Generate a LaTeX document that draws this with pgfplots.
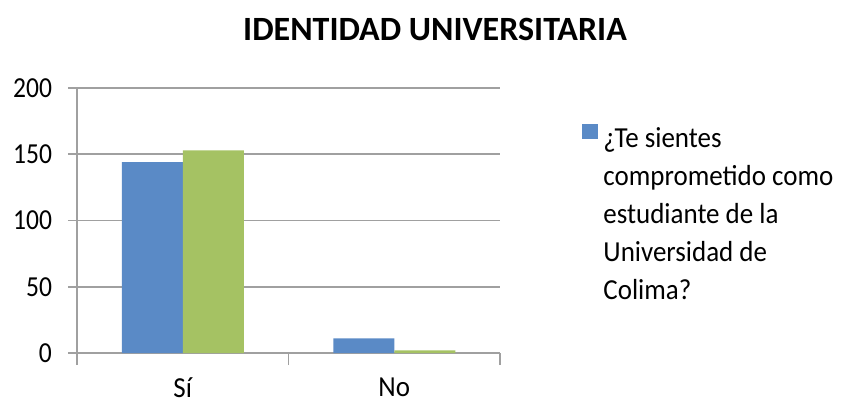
\documentclass[border=0pt]{standalone}
\usepackage{pgfplots}
\pgfplotsset{compat=1.18}
\usepackage{fontspec}
\setmainfont{Carlito}
\newfontfamily\narrowfont[FakeStretch=0.93]{Carlito}
\newfontfamily\tickfont[FakeStretch=0.88]{Carlito}
\definecolor{xblue}{HTML}{5A8AC6}
\definecolor{xgreen}{HTML}{A5C263}
\definecolor{xgrid}{HTML}{A0A0A0}
\begin{document}
\begin{tikzpicture}
\path[use as bounding box] (0,0) rectangle (422.5pt,202pt);
\node[font=\fontsize{17}{20}\selectfont\bfseries] at (217.5pt,187.5pt) {IDENTIDAD UNIVERSITARIA};
\begin{axis}[
  at={(38.5pt,25.5pt)}, anchor=south west,
  scale only axis, width=211.5pt, height=132.5pt,
  xmin=-0.5, xmax=1.5, ymin=0, ymax=200,
  ytick={0,50,100,150,200},
  xtick={0,1}, xticklabels={Sí,No},
  minor xtick={-0.5,0.5,1.5},
  major x tick style={draw=none},
  minor x tick style={draw=xgrid, line width=0.8pt},
  minor tick length=6pt,
  major tick length=4.5pt,
  tick align=outside,
  y tick style={draw=xgrid, line width=0.8pt},
  axis x line*=bottom, axis y line*=left,
  axis line style={draw=xgrid, line width=0.8pt, -},
  ymajorgrids, grid style={draw=xgrid, line width=0.8pt},
  yticklabel style={font=\tickfont\fontsize{14.5}{16}\selectfont, xshift=-4.5pt},
  xticklabel style={font=\narrowfont\fontsize{14.5}{16}\selectfont, yshift=-4.5pt},
  /pgf/number format/assume math mode=true,
  ybar=0pt, bar width=30.5pt,
  legend style={draw=none, at={(1.194,0.865)}, anchor=north west, inner sep=0pt,
    font=\narrowfont\fontsize{14.5}{19}\selectfont, nodes={inner xsep=2.5pt, inner ysep=0pt}},
  legend image code/.code={\fill[#1] (0pt,0pt) rectangle (8pt,7.5pt);},
]
\addplot[fill=xblue, draw=none, bar shift=-15.25pt] coordinates {(0,144) (1,11)};
\addlegendentry{\parbox[t]{130pt}{\raggedright\fontsize{14.5}{19}\selectfont ¿Te sientes\\comprometido como\\estudiante de la\\Universidad de\\Colima?}}
\addplot[fill=xgreen, draw=none, bar shift=15.25pt, forget plot] coordinates {(0,153) (1,2)};
\end{axis}
\end{tikzpicture}
\end{document}
